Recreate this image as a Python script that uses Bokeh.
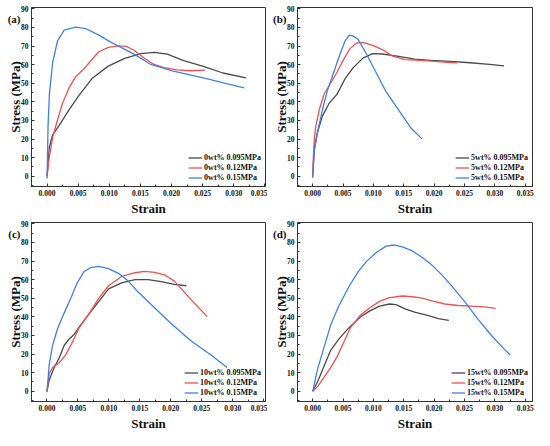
from bokeh.plotting import figure
from bokeh.layouts import gridplot
from bokeh.models import Legend, LegendItem, LinearAxis, FixedTicker, NumeralTickFormatter, Range1d, Title
from bokeh.embed import file_html
from bokeh.resources import INLINE

# ---------------- data ----------------
x_ticks = [0.000, 0.005, 0.010, 0.015, 0.020, 0.025, 0.030, 0.035]
y_ticks = [0, 10, 20, 30, 40, 50, 60, 70, 80, 90]
panel_tags = ["(a)", "(b)", "(c)", "(d)"]
pressures = ["0.095MPa", "0.12MPa", "0.15MPa"]
contents = ["0wt%", "5wt%", "10wt%", "15wt%"]

# (a) 0wt%
a_k_x = [0, 0.00037, 0.00089, 0.00195, 0.00353, 0.00511, 0.00721, 0.00984, 0.01247, 0.01511, 0.01721, 0.01932, 0.02195, 0.02511, 0.02826, 0.03195]
a_k_y = [0, 15.6, 22.3, 27.3, 35.7, 43.3, 52.5, 59.2, 63.4, 65.9, 66.6, 65.6, 62.2, 59.0, 55.5, 52.9]
a_r_x = [0, 0.00037, 0.00089, 0.00142, 0.00247, 0.00353, 0.00458, 0.00589, 0.00695, 0.00826, 0.00984, 0.01142, 0.01274, 0.01405, 0.01563, 0.01721, 0.01879, 0.02089, 0.0230, 0.02537]
a_r_y = [0, 10.6, 20.6, 27.3, 39.1, 47.5, 53.4, 57.6, 61.7, 66.8, 69.3, 70.1, 69.8, 67.6, 63.4, 60.1, 58.4, 57.2, 56.7, 57.0]
a_b_x = [0, 0.00016, 0.00037, 0.00089, 0.00168, 0.00274, 0.00458, 0.00616, 0.00826, 0.01037, 0.01142, 0.01426, 0.01668, 0.02011, 0.02563, 0.0288, 0.03168]
a_b_y = [-1.2, 27.3, 44.1, 60.9, 72.7, 78.5, 80.2, 79.4, 76.0, 71.8, 70.1, 65.1, 60.1, 56.7, 52.5, 49.8, 47.5]

# (b) 5wt%
b_k_x = [0, 0.00027, 0.0008, 0.0016, 0.00267, 0.00401, 0.00534, 0.00668, 0.00828, 0.00988, 0.01149, 0.01416, 0.01683, 0.0195, 0.0227, 0.02591, 0.02911, 0.03152]
b_k_y = [0, 15.4, 23.8, 32.3, 39.0, 44.1, 52.5, 58.4, 63.5, 65.9, 65.7, 64.4, 63.0, 62.3, 61.8, 61.0, 60.1, 59.3]
b_r_x = [0, 0.00011, 0.00027, 0.00053, 0.00107, 0.00187, 0.00294, 0.00401, 0.00507, 0.00614, 0.00721, 0.00828, 0.00988, 0.01149, 0.01309, 0.01522, 0.01843, 0.02163, 0.02377]
b_r_y = [-0.7, 10.3, 20.4, 27.2, 35.6, 44.1, 50.0, 55.9, 62.7, 68.6, 71.6, 72.0, 70.3, 68.1, 64.7, 62.7, 62.2, 61.3, 61.0]
b_b_x = [0, 0.00027, 0.0008, 0.0016, 0.0024, 0.00347, 0.00454, 0.00534, 0.00604, 0.00668, 0.00748, 0.00881, 0.01042, 0.01202, 0.01416, 0.01629, 0.0180]
b_b_y = [-0.7, 13.7, 23.8, 35.6, 45.8, 55.9, 66.0, 72.8, 75.8, 75.3, 73.6, 66.0, 55.9, 45.8, 35.6, 25.5, 20.1]

# (c) 10wt%
c_k_x = [0, 0.00037, 0.00117, 0.00197, 0.00277, 0.00356, 0.00436, 0.00543, 0.00676, 0.00835, 0.00995, 0.01207, 0.0142, 0.01633, 0.01846, 0.02059, 0.0225]
c_k_y = [0, 6.1, 12.8, 17.9, 24.6, 28.0, 30.5, 35.6, 41.5, 48.2, 55.0, 58.3, 60.0, 60.0, 58.9, 57.5, 56.7]
c_r_x = [0, 0.00037, 0.0009, 0.00197, 0.00303, 0.0041, 0.00516, 0.00676, 0.00835, 0.00995, 0.01207, 0.0142, 0.0158, 0.01739, 0.01899, 0.02059, 0.02218, 0.02378, 0.0259]
c_r_y = [0, 9.4, 12.8, 15.3, 19.6, 26.3, 33.9, 41.5, 49.9, 56.7, 61.7, 63.7, 64.4, 63.9, 62.6, 59.2, 53.3, 47.4, 40.1]
c_b_x = [0, 0.00037, 0.0009, 0.0017, 0.00277, 0.00383, 0.00489, 0.00596, 0.00702, 0.00835, 0.00995, 0.01154, 0.01314, 0.01473, 0.01686, 0.02005, 0.02324, 0.02644, 0.0291]
c_b_y = [-0.5, 14.5, 24.6, 33.6, 42.0, 49.9, 58.3, 64.2, 66.4, 67.1, 65.9, 63.4, 59.2, 53.3, 46.5, 36.4, 27.1, 19.6, 12.8]

# (d) 15wt%
d_k_x = [0, 0.00081, 0.00188, 0.00296, 0.0043, 0.00591, 0.0078, 0.00941, 0.01102, 0.01263, 0.01371, 0.01532, 0.01694, 0.01909, 0.0207, 0.02242]
d_k_y = [0, 5.1, 13.6, 22.0, 28.0, 33.9, 39.8, 43.2, 45.8, 46.9, 46.6, 44.1, 42.4, 40.7, 39.0, 38.1]
d_r_x = [0, 0.00081, 0.00188, 0.00296, 0.00403, 0.00511, 0.00618, 0.0078, 0.00941, 0.01102, 0.01263, 0.01478, 0.0164, 0.01801, 0.01962, 0.02177, 0.02392, 0.02608, 0.02823, 0.03011]
d_r_y = [0, 2.5, 7.6, 12.7, 18.6, 26.3, 33.9, 40.7, 44.9, 48.3, 50.3, 51.2, 50.8, 50.0, 48.6, 46.9, 46.1, 45.8, 45.3, 44.6]
d_b_x = [0, 0.00081, 0.00188, 0.00296, 0.0043, 0.00591, 0.00753, 0.00887, 0.01048, 0.0121, 0.01344, 0.01478, 0.0164, 0.01801, 0.01962, 0.02124, 0.02285, 0.025, 0.02715, 0.0293, 0.03145, 0.03253]
d_b_y = [0, 11.9, 23.7, 35.6, 45.8, 55.9, 64.4, 69.8, 74.6, 78.0, 78.6, 77.6, 75.4, 72.0, 67.8, 62.7, 56.8, 48.3, 39.0, 30.5, 22.9, 19.5]

panels = [
    [(a_k_x, a_k_y), (a_r_x, a_r_y), (a_b_x, a_b_y)],
    [(b_k_x, b_k_y), (b_r_x, b_r_y), (b_b_x, b_b_y)],
    [(c_k_x, c_k_y), (c_r_x, c_r_y), (c_b_x, c_b_y)],
    [(d_k_x, d_k_y), (d_r_x, d_r_y), (d_b_x, d_b_y)],
]
x_left = -0.0025
x_right = [0.0351, 0.0362, 0.0353, 0.0362]
y_bottom, y_top = -5.5, 90.7
tag_y = 84.5

# ---------------- style ----------------
FONT = "Liberation Serif"
colors = ["#4a4a4a", "#f24f4f", "#3d7ff0"]
AX = "#333333"
TXT = "#111111"


def style_axis(ax):
    ax.axis_line_color = AX
    ax.major_tick_line_color = AX
    ax.minor_tick_line_color = AX
    ax.major_tick_in = 3
    ax.major_tick_out = 0
    ax.minor_tick_in = 2
    ax.minor_tick_out = 0
    ax.major_label_text_font = FONT
    ax.major_label_text_font_style = "bold"
    ax.major_label_text_font_size = "7.5px"
    ax.major_label_text_color = TXT
    ax.axis_label_text_font = FONT
    ax.axis_label_text_font_style = "bold"
    ax.axis_label_text_font_size = "13px"
    ax.axis_label_text_color = TXT


def make_panel(i):
    left_border = 31 if i % 2 == 0 else 30
    p = figure(width=267, height=215, output_backend="svg", toolbar_location=None,
               x_range=Range1d(x_left, x_right[i]), y_range=Range1d(y_bottom, y_top),
               min_border_left=left_border, min_border_right=2, min_border_top=7, min_border_bottom=23,
               background_fill_color="white", border_fill_color="white")
    p.grid.visible = False
    p.outline_line_color = AX
    p.outline_line_width = 1

    p.xaxis.ticker = FixedTicker(ticks=x_ticks, minor_ticks=[t + 0.0025 for t in x_ticks[:-1]] + [-0.0025])
    p.yaxis.ticker = FixedTicker(ticks=y_ticks, minor_ticks=[t + 5 for t in y_ticks[:-1]] + [-5])
    p.xaxis.formatter = NumeralTickFormatter(format="0.000")
    style_axis(p.xaxis[0])
    style_axis(p.yaxis[0])
    p.xaxis.major_label_standoff = 3
    p.yaxis.axis_label = "Stress (MPa)"
    p.yaxis.major_label_standoff = 3
    p.yaxis.axis_label_standoff = -5

    # panel tag "(a)" etc.: one-tick axis outside the y axis, label pulled inwards
    tag = LinearAxis(ticker=FixedTicker(ticks=[tag_y]), major_label_overrides={tag_y: panel_tags[i]})
    style_axis(tag)
    tag.axis_line_color = None
    tag.major_tick_line_color = None
    tag.minor_tick_line_color = None
    tag.major_label_text_font_size = "11px"
    tag.major_label_standoff = -16
    p.add_layout(tag, "left")

    # x-axis title
    xt = Title(text="Strain", align="center", text_font=FONT, text_font_style="bold",
               text_font_size="13px", text_color=TXT, standoff=0)
    p.add_layout(xt, "below")

    items = []
    for j, (xs, ys) in enumerate(panels[i]):
        r = p.line(xs, ys, line_color=colors[j], line_width=1.3)
        items.append(LegendItem(label=contents[i] + " " + pressures[j], renderers=[r]))

    leg = Legend(items=items, location="bottom_right")
    leg.border_line_color = None
    leg.background_fill_alpha = 0
    leg.label_text_font = FONT
    leg.label_text_font_style = "bold"
    leg.label_text_font_size = "8px"
    leg.label_text_color = TXT
    leg.glyph_width = 14
    leg.glyph_height = 9
    leg.label_height = 9
    leg.label_standoff = 2
    leg.spacing = 1
    leg.padding = 2
    leg.margin = 4
    p.add_layout(leg, "center")
    return p


figs = [make_panel(i) for i in range(4)]
grid = gridplot([[figs[0], figs[1]], [figs[2], figs[3]]], toolbar_location=None)

open("out.html", "w").write(file_html(grid, INLINE))
